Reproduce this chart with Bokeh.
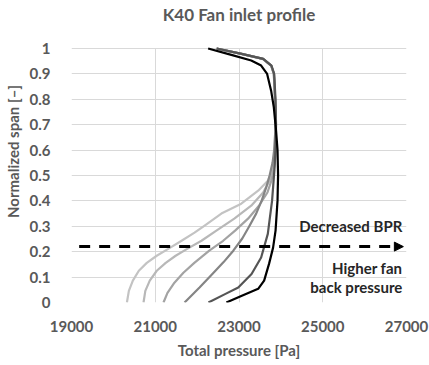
from bokeh.plotting import figure
from bokeh.models import Range1d, FixedTicker, Arrow, NormalHead, Label
from bokeh.embed import file_html
from bokeh.resources import INLINE

# ---- data (total pressure [Pa] vs normalized span [-]) ----
x_ticks = [19000, 21000, 23000, 25000, 27000]
y_ticks = [0, 0.1, 0.2, 0.3, 0.4, 0.5, 0.6, 0.7, 0.8, 0.9, 1.0]
y_tick_labels = ["0", "0.1", "0.2", "0.3", "0.4", "0.5", "0.6", "0.7", "0.8", "0.9", "1"]

span_1 = [0, 0.046, 0.086, 0.125, 0.156, 0.184, 0.212, 0.243, 0.275, 0.302, 0.350, 0.389, 0.440, 0.480, 0.531, 0.598,
          0.700, 0.800, 0.900, 0.933, 0.959, 0.979, 1.0]
pres_1 = [20323, 20370, 20465, 20608, 20798, 21035, 21320, 21629, 21938, 22171, 22579, 23054, 23458, 23695, 23815, 23862,
          23870, 23860, 23831, 23767, 23570, 23054, 22460]

span_2 = [0, 0.046, 0.086, 0.125, 0.156, 0.184, 0.212, 0.243, 0.283, 0.330, 0.381, 0.433, 0.480, 0.547, 0.598,
          0.700, 0.800, 0.900, 0.933, 0.959, 0.979, 1.0]
pres_2 = [20720, 20763, 20869, 21036, 21250, 21487, 21772, 22104, 22460, 22888, 23292, 23577, 23731, 23838, 23862,
          23870, 23860, 23831, 23767, 23570, 23054, 22460]

span_3 = [0, 0.038, 0.078, 0.117, 0.156, 0.204, 0.243, 0.283, 0.330, 0.381, 0.433, 0.480, 0.547, 0.598,
          0.700, 0.800, 0.900, 0.933, 0.959, 0.979, 1.0]
pres_3 = [21197, 21292, 21458, 21672, 21933, 22290, 22622, 22907, 23216, 23477, 23679, 23774, 23857, 23869,
          23872, 23862, 23833, 23768, 23572, 23056, 22462]

span_4 = [0, 0.024, 0.059, 0.106, 0.158, 0.204, 0.252, 0.296, 0.350, 0.401, 0.452, 0.500, 0.551, 0.598,
          0.700, 0.800, 0.900, 0.933, 0.959, 0.979, 1.0]
pres_4 = [21700, 21843, 22057, 22330, 22627, 22864, 23078, 23232, 23410, 23541, 23648, 23731, 23802, 23838,
          23876, 23864, 23835, 23770, 23575, 23060, 22466]

span_5 = [0, 0.033, 0.059, 0.112, 0.177, 0.270, 0.401, 0.520, 0.598, 0.700, 0.800, 0.900, 0.933, 0.959, 0.979, 1.0]
pres_5 = [22270, 22666, 22983, 23300, 23529, 23688, 23790, 23845, 23870, 23885, 23872, 23840, 23775, 23580, 23065, 22470]

span_6 = [0, 0.026, 0.054, 0.086, 0.153, 0.216, 0.283, 0.401, 0.500, 0.600, 0.677, 0.769, 0.834, 0.900, 0.933, 0.953, 0.975, 1.0]
pres_6 = [22698, 23054, 23458, 23600, 23719, 23814, 23873, 23920, 23933, 23920, 23885, 23831, 23767, 23672, 23529, 23292, 22817, 22263]

series = [
    (pres_1, span_1, "#c3c3c3"),
    (pres_2, span_2, "#b8b8b8"),
    (pres_3, span_3, "#a3a3a3"),
    (pres_4, span_4, "#858585"),
    (pres_5, span_5, "#555555"),
    (pres_6, span_6, "#000000"),
]

title_text = "K40 Fan inlet profile"
arrow_y = 0.22
arrow_x0, arrow_x1 = 19183, 26925
notes = [("Decreased BPR", 26900, 0.302), ("Higher fan", 26900, 0.137), ("back pressure", 26900, 0.062)]

FONT = "Lato"
GREY = "#595959"

# the y range extends above 1 to leave room for the title inside the frame
p = figure(width=429, height=365, output_backend="svg", toolbar_location=None, title=None,
           x_range=Range1d(19000, 27000), y_range=Range1d(0, 1.189),
           min_border_left=69, min_border_right=23, min_border_top=0, min_border_bottom=63)

p.add_layout(Label(x=23000, y=1.134, text=title_text, text_align="center", text_baseline="middle",
                   text_font=FONT, text_font_size="17px", text_font_style="bold", text_color=GREY))

for ax in (p.xaxis, p.yaxis):
    ax.axis_line_color = None
    ax.major_tick_line_color = None
    ax.minor_tick_line_color = None
    ax.major_label_text_font = FONT
    ax.major_label_text_font_size = "15px"
    ax.major_label_text_font_style = "bold"
    ax.major_label_text_color = GREY
    ax.axis_label_text_font = FONT
    ax.axis_label_text_font_size = "15px"
    ax.axis_label_text_font_style = "bold"
    ax.axis_label_text_color = GREY

p.xaxis.ticker = FixedTicker(ticks=x_ticks)
p.yaxis.ticker = FixedTicker(ticks=y_ticks)
p.yaxis.bounds = (0, 1)
p.yaxis.major_label_overrides = dict(zip(y_ticks, y_tick_labels))
p.xaxis.axis_label = "Total pressure [Pa]"
p.yaxis.axis_label = "Normalized span [\u2013]"
p.xaxis.major_label_standoff = 12
p.xaxis.axis_label_standoff = 6
p.yaxis.major_label_standoff = 15
p.yaxis.axis_label_standoff = 5

p.xgrid.ticker = FixedTicker(ticks=x_ticks)
p.ygrid.ticker = FixedTicker(ticks=y_ticks)
p.xgrid.cross_bounds = (0, 1)
p.grid.grid_line_color = "#d9d9d9"
p.grid.grid_line_width = 1
p.outline_line_color = None

for xs, ys, col in series:
    p.line(xs, ys, line_color=col, line_width=2.2, line_join="round")

p.add_layout(Arrow(end=NormalHead(size=9, fill_color="black", line_color="black"),
                   x_start=arrow_x0, y_start=arrow_y, x_end=arrow_x1, y_end=arrow_y,
                   line_width=3, line_dash="11 9", line_color="black"))

for txt, tx, ty in notes:
    p.add_layout(Label(x=tx, y=ty, text=txt, text_align="right", text_baseline="middle",
                       text_font=FONT, text_font_size="15px", text_font_style="bold",
                       text_color="#262626"))

open("out.html", "w").write(file_html(p, INLINE))
